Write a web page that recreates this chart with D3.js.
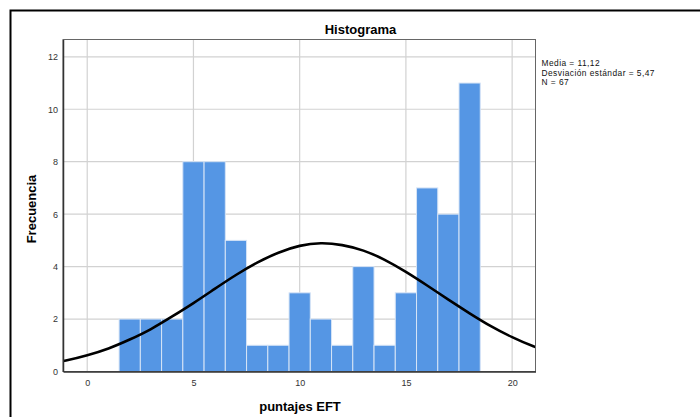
<!DOCTYPE html>
<html>
<head>
<meta charset="utf-8">
<script src="https://cdn.jsdelivr.net/npm/d3@7"></script>
<style>
  body { margin: 0; background: #fff; }
  svg { display: block; font-family: "Liberation Sans", Arial, sans-serif; }
</style>
</head>
<body>
<svg id="chart" width="700" height="417"></svg>
<script>
// histogram bins (centre of each unit-wide bin) and their counts
const binCenters = [2, 3, 4, 5, 6, 7, 8, 9, 10, 11, 12, 13, 14, 15, 16, 17, 18];
const counts     = [2, 2, 2, 8, 8, 5, 1, 1, 3, 2, 1, 4, 1, 3, 7, 6, 11];

// normal curve at each integer score
const curveX = [-2, -1, 0, 1, 2, 3, 4, 5, 6, 7, 8, 9, 10, 11, 12, 13, 14, 15, 16, 17, 18, 19, 20, 21, 22];
const curveY = [0.28, 0.42, 0.62, 0.88, 1.22, 1.62, 2.10, 2.61, 3.15, 3.68, 4.15, 4.53, 4.79, 4.89,
                4.82, 4.61, 4.26, 3.80, 3.28, 2.74, 2.22, 1.73, 1.31, 0.96, 0.68];

const xTicks = [0, 5, 10, 15, 20];
const yTicks = [0, 2, 4, 6, 8, 10, 12];
const statsLines = ["Media = 11,12", "Desviación estándar = 5,47", "N = 67"];

const svg = d3.select("#chart");

// outer frame of the output viewer
svg.append("rect")
    .attr("x", 10.5).attr("y", 10.5)
    .attr("width", 700).attr("height", 420)
    .attr("fill", "none")
    .attr("stroke", "#000")
    .attr("stroke-width", 2);

const plot = {left: 63, top: 39.5, right: 535.5, bottom: 371.5};
const width = plot.right - plot.left;
const height = plot.bottom - plot.top;

const xScale = d3.scaleLinear().domain([-1.14, 21.1]).range([0, width]);
const yScale = d3.scaleLinear().domain([0, 12.66]).range([height, 0]);

const g = svg.append("g").attr("transform", `translate(${plot.left},${plot.top})`);

g.append("clipPath").attr("id", "clip")
    .append("rect").attr("width", width).attr("height", height);

// gridlines
g.append("g")
    .selectAll("line.vgrid")
    .data(xTicks)
    .join("line")
    .attr("x1", d => xScale(d)).attr("x2", d => xScale(d))
    .attr("y1", 0).attr("y2", height)
    .attr("stroke", "#d2d2d2").attr("stroke-width", 1.2);

g.append("g")
    .selectAll("line.hgrid")
    .data(yTicks.filter(d => d > 0))
    .join("line")
    .attr("x1", 0).attr("x2", width)
    .attr("y1", d => yScale(d)).attr("y2", d => yScale(d))
    .attr("stroke", "#d2d2d2").attr("stroke-width", 1.2);

// bars
g.append("g")
    .selectAll("rect")
    .data(binCenters.map((c, i) => ({c: c, n: counts[i]})))
    .join("rect")
    .attr("x", d => xScale(d.c - 0.5))
    .attr("width", d => xScale(d.c + 0.5) - xScale(d.c - 0.5))
    .attr("y", d => yScale(d.n))
    .attr("height", d => yScale(0) - yScale(d.n))
    .attr("fill", "#5596e4")
    .attr("stroke", "#d6e4f6")
    .attr("stroke-width", 1);

// normal curve
const line = d3.line()
    .x((d, i) => xScale(d))
    .y((d, i) => yScale(curveY[i]))
    .curve(d3.curveNatural);

g.append("path")
    .attr("clip-path", "url(#clip)")
    .attr("d", line(curveX))
    .attr("fill", "none")
    .attr("stroke", "#000")
    .attr("stroke-width", 2.6);

// frame of the plot area
g.append("rect")
    .attr("width", width).attr("height", height)
    .attr("fill", "none")
    .attr("stroke", "#666").attr("stroke-width", 1);

// axes
const xAxis = d3.axisBottom(xScale).tickValues(xTicks).tickSize(0).tickPadding(8);
const yAxis = d3.axisLeft(yScale).tickValues(yTicks).tickSize(0).tickPadding(5);

g.append("g")
    .attr("transform", `translate(0,${height})`)
    .call(xAxis)
    .call(a => a.select(".domain").attr("stroke", "#333").attr("stroke-width", 1.5))
    .call(a => a.selectAll("text").attr("font-size", 9).attr("fill", "#333")
        .attr("font-family", "Liberation Sans, Arial, sans-serif"));

g.append("g")
    .call(yAxis)
    .call(a => a.select(".domain").attr("stroke", "#333").attr("stroke-width", 1.5))
    .call(a => a.selectAll("text").attr("font-size", 9).attr("fill", "#333")
        .attr("font-family", "Liberation Sans, Arial, sans-serif"));

// titles
svg.append("text")
    .attr("x", 360.5).attr("y", 33.5)
    .attr("text-anchor", "middle")
    .attr("font-size", 13).attr("font-weight", "bold")
    .text("Histograma");

svg.append("text")
    .attr("transform", "translate(35.5,209) rotate(-90)")
    .attr("text-anchor", "middle")
    .attr("font-size", 13).attr("font-weight", "bold")
    .text("Frecuencia");

svg.append("text")
    .attr("x", 300).attr("y", 411)
    .attr("text-anchor", "middle")
    .attr("font-size", 13).attr("font-weight", "bold")
    .text("puntajes EFT");

// statistics legend
svg.append("g")
    .selectAll("text")
    .data(statsLines)
    .join("text")
    .attr("x", 541.5)
    .attr("y", (d, i) => 66 + i * 9.7)
    .attr("font-size", 8.4)
    .attr("letter-spacing", 0.45)
    .attr("fill", "#111")
    .text(d => d);
</script>
</body>
</html>
